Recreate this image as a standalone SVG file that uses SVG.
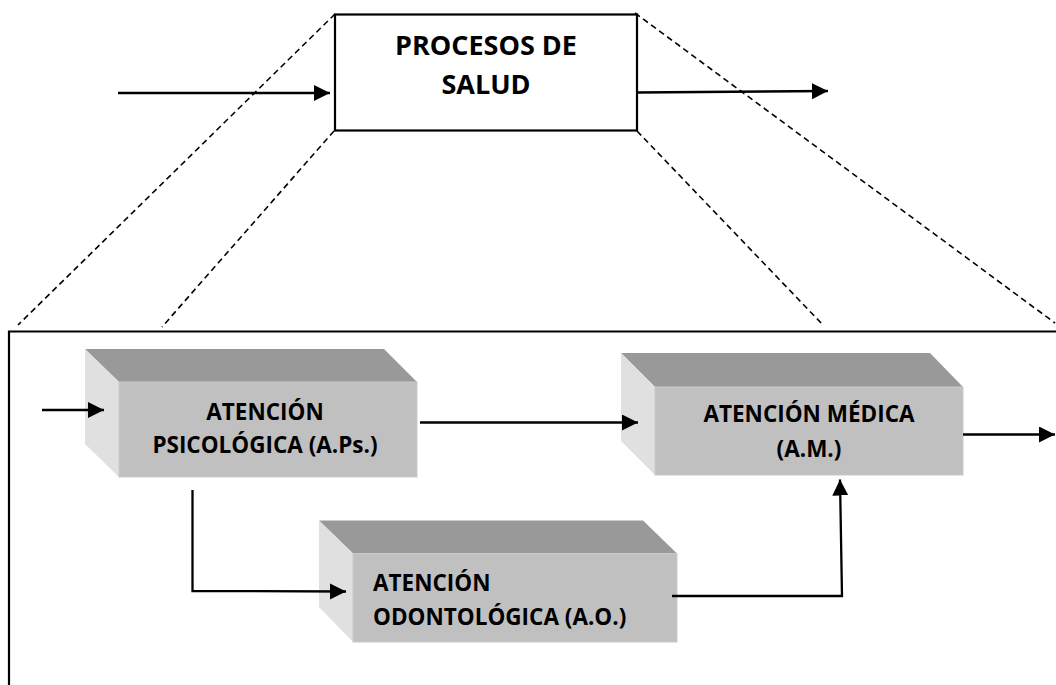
<svg xmlns="http://www.w3.org/2000/svg" width="1056" height="685" viewBox="0 0 1056 685">
  <style>
    .lbl { font-family: "Open Sans", "Liberation Sans", sans-serif; font-weight: 700; fill: #000; }
    .big { font-size: 27px; }
    .mid { font-size: 22.5px; }
    .dash { fill: none; stroke: #000; stroke-width: 1.6; stroke-dasharray: 6 4; }
    .frame { fill: none; stroke: #000; stroke-width: 2.2; }
    .wire { fill: none; stroke: #000; stroke-width: 2.3; }
    .front { fill: #c0c0c0; stroke: #cacaca; stroke-width: 1; }
    .top { fill: #999999; }
    .side { fill: #e0e0e0; }
  </style>
  <defs>
    <marker id="arrow" markerUnits="userSpaceOnUse" markerWidth="17" markerHeight="17" refX="16" refY="8" orient="auto">
      <path d="M0,0 L16,8 L0,16 Z" fill="#000"/>
    </marker>
  </defs>

  <rect width="1056" height="685" fill="#fff"/>

  <!-- zoom guides from the process box down to the detail frame -->
  <g id="guides">
    <line class="dash" x1="335" y1="14" x2="18" y2="325"/>
    <line class="dash" x1="334" y1="131" x2="162" y2="327"/>
    <line class="dash" x1="637" y1="131" x2="823" y2="325"/>
    <line class="dash" x1="635" y1="13" x2="1055" y2="323"/>
  </g>

  <!-- detail frame -->
  <g id="frame">
    <path class="frame" d="M9,685 L9,331.5 L1056,331.5"/>
  </g>

  <!-- top-level process -->
  <g id="procesos">
    <rect x="335" y="14.5" width="302" height="116" fill="#fff" stroke="#000" stroke-width="2.2"/>
    <text class="lbl big" x="486" y="55" text-anchor="middle">PROCESOS DE</text>
    <text class="lbl big" x="486" y="94" text-anchor="middle">SALUD</text>
  </g>

  <!-- psychological care block -->
  <g id="aps">
    <polygon class="top" points="85,349 384,349 417,382 119,382"/>
    <polygon class="side" points="85,349 119,382 119,477 85,444"/>
    <rect class="front" x="119" y="382" width="298" height="95"/>
    <text class="lbl mid" x="265" y="420" text-anchor="middle">ATENCIÓN</text>
    <text class="lbl mid" x="265" y="452.5" text-anchor="middle">PSICOLÓGICA (A.Ps.)</text>
  </g>

  <!-- medical care block -->
  <g id="am">
    <polygon class="top" points="621,353 930,353 963,387 655,387"/>
    <polygon class="side" points="621,353 655,387 655,475 621,441"/>
    <rect class="front" x="655" y="387" width="308" height="88"/>
    <text class="lbl mid" x="809" y="421.5" text-anchor="middle">ATENCIÓN MÉDICA</text>
    <text class="lbl mid" x="809" y="456.5" text-anchor="middle">(A.M.)</text>
  </g>

  <!-- dental care block -->
  <g id="ao">
    <polygon class="top" points="319,520.5 643,520.5 677,553.5 353,553.5"/>
    <polygon class="side" points="319,520.5 353,553.5 353,642 319,607"/>
    <rect class="front" x="353" y="553.5" width="324" height="88.5"/>
    <text class="lbl mid" x="373" y="590.5">ATENCIÓN</text>
    <text class="lbl mid" x="373" y="625">ODONTOLÓGICA (A.O.)</text>
  </g>

  <!-- flows -->
  <g id="connectors">
    <line class="wire" x1="118" y1="93" x2="330" y2="93" marker-end="url(#arrow)"/>
    <line class="wire" x1="637" y1="92.5" x2="828" y2="91" marker-end="url(#arrow)"/>
    <line class="wire" x1="42" y1="410" x2="104" y2="410" marker-end="url(#arrow)"/>
    <line class="wire" x1="420" y1="422.5" x2="638" y2="422.5" marker-end="url(#arrow)"/>
    <polyline class="wire" points="192.5,490 192.5,591 346,591.5" marker-end="url(#arrow)"/>
    <polyline class="wire" points="672,596 842,596 840,479.5" marker-end="url(#arrow)"/>
    <line class="wire" x1="963" y1="434.5" x2="1055" y2="434.5" marker-end="url(#arrow)"/>
  </g>
</svg>
